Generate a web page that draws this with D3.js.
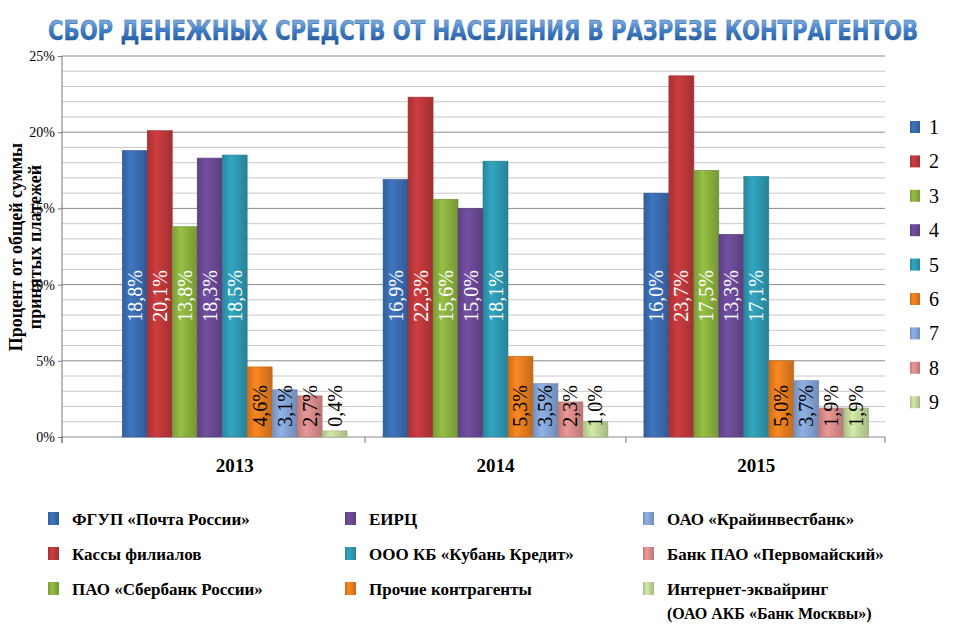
<!DOCTYPE html>
<html><head><meta charset="utf-8">
<script src="https://cdn.jsdelivr.net/npm/d3@7"></script>
<style>body{margin:0;background:#fff}</style></head>
<body><svg id="c" width="960" height="632"></svg>
<script>
const years = ["2013","2014","2015"];
const seriesNames = ["ФГУП «Почта России»","Кассы филиалов","ПАО «Сбербанк России»","ЕИРЦ","ООО КБ «Кубань Кредит»","Прочие контрагенты","ОАО «Крайинвестбанк»","Банк ПАО «Первомайский»","Интернет-эквайринг"];
const seriesKeys = ["1","2","3","4","5","6","7","8","9"];
const colors = ["#3b6db3","#c0393b","#8db33f","#6b4a97","#2f9bb5","#ea7f1f","#86a6d8","#dc8e8d","#c5db9c"];
const values = [
  [18.8,20.1,13.8,18.3,18.5,4.6,3.1,2.7,0.4],
  [16.9,22.3,15.6,15.0,18.1,5.3,3.5,2.3,1.0],
  [16.0,23.7,17.5,13.3,17.1,5.0,3.7,1.9,1.9]
];
const yTicks = [0,5,10,15,20,25];

const svg = d3.select("#c");
const defs = svg.append("defs");
const tg = defs.append("linearGradient").attr("id","tg").attr("x1",0).attr("y1",0).attr("x2",0).attr("y2",1);
tg.append("stop").attr("offset",0).attr("stop-color","#9ec3ea");
tg.append("stop").attr("offset",0.5).attr("stop-color","#3f7fc8");
tg.append("stop").attr("offset",1).attr("stop-color","#1d4e8f");
colors.forEach((c,i)=>{
  const g = defs.append("linearGradient").attr("id","bg"+i).attr("x1",0).attr("x2",1).attr("y1",0).attr("y2",0);
  g.append("stop").attr("offset",0).attr("stop-color",d3.color(c).darker(0.4));
  g.append("stop").attr("offset",0.35).attr("stop-color",d3.color(c).brighter(0.2));
  g.append("stop").attr("offset",1).attr("stop-color",d3.color(c).darker(0.5));
});

const tf = "Liberation Sans Narrow, DejaVu Sans Condensed, sans-serif";
svg.append("text").attr("x",483).attr("y",40).attr("text-anchor","middle")
  .attr("font-family",tf).attr("font-weight","bold").attr("font-size",27)
  .attr("textLength",870).attr("lengthAdjust","spacingAndGlyphs")
  .attr("fill","url(#tg)").attr("stroke","#2a5d9e").attr("stroke-width",0.4)
  .text("СБОР ДЕНЕЖНЫХ СРЕДСТВ ОТ НАСЕЛЕНИЯ  В РАЗРЕЗЕ КОНТРАГЕНТОВ");

const x0 = d3.scaleBand().domain(years).range([104,887]).paddingInner(0.138).paddingOuter(0.07);
const x1 = d3.scaleBand().domain(seriesKeys).range([0,x0.bandwidth()]);
const y = d3.scaleLinear().domain([0,25]).range([437,56]);
const left = 62, right = 885;
const font = "Liberation Serif, Tinos, DejaVu Serif, Times New Roman, serif";

d3.range(0,26,1).forEach(v=>{
  svg.append("line").attr("x1",left).attr("x2",right).attr("y1",y(v)).attr("y2",y(v))
    .attr("stroke", v%5===0 ? "#8a8a8a" : "#c8c8c8").attr("stroke-width",1);
});
svg.append("line").attr("x1",left).attr("x2",left).attr("y1",56).attr("y2",443).attr("stroke","#777");
[0,1,2,3].forEach(i=>{
  const xx = i<3 ? (i===0?left:x0(years[i])-x0.step()*x0.paddingInner()/2) : right;
  svg.append("line").attr("x1",xx).attr("x2",xx).attr("y1",437).attr("y2",443).attr("stroke","#777");
});
const ya = svg.append("g").attr("transform",`translate(${left},0)`)
  .call(d3.axisLeft(y).tickValues(yTicks).tickFormat(d=>d+"%").tickSize(4));
ya.select(".domain").remove();
ya.selectAll("text").attr("font-family",font).attr("font-size",14).attr("fill","#000");
ya.selectAll("line").attr("stroke","#777");

svg.selectAll(".xl").data(years).join("text")
  .attr("x",d=>x0(d)+x0.bandwidth()/2).attr("y",472).attr("text-anchor","middle")
  .attr("font-family",font).attr("font-weight","bold").attr("font-size",19).text(d=>d);

svg.append("text").attr("transform","translate(22,247) rotate(-90)").attr("text-anchor","middle")
  .attr("font-family",font).attr("font-weight","bold").attr("font-size",18).text("Процент от общей суммы");
svg.append("text").attr("transform","translate(41,247) rotate(-90)").attr("text-anchor","middle")
  .attr("font-family",font).attr("font-weight","bold").attr("font-size",18).text("принятых платежей");

years.forEach((yr,gi)=>{
  const g = svg.append("g").attr("transform",`translate(${x0(yr)},0)`);
  values[gi].forEach((v,si)=>{
    const bx = x1(seriesKeys[si]), bw = x1.bandwidth();
    g.append("rect").attr("x",bx).attr("y",y(v)).attr("width",bw).attr("height",y(0)-y(v))
      .attr("fill","url(#bg"+si+")").attr("stroke",d3.color(colors[si]).darker(0.6)).attr("stroke-width",0.6);
    const lbl = v.toFixed(1).replace(".",",")+"%";
    const big = si<5;
    const cy = big ? 296 : 406;
    g.append("text").attr("transform",`translate(${bx+bw/2+7},${cy}) rotate(-90)`)
      .attr("text-anchor","middle").attr("font-family",font).attr("font-size",20)
      .attr("fill", big ? "#fff" : "#000").text(lbl);
  });
});

seriesKeys.forEach((k,i)=>{
  const yy = 127 + i*34.4;
  svg.append("rect").attr("x",910).attr("y",yy-6).attr("width",10).attr("height",12).attr("fill","url(#bg"+i+")");
  svg.append("text").attr("x",929).attr("y",yy+7).attr("font-family",font).attr("font-size",20).text(k);
});

const colX = [48,345,643];
const rowY = [519,554,589];
seriesNames.forEach((n,i)=>{
  const c = Math.floor(i/3), r = i%3;
  svg.append("rect").attr("x",colX[c]).attr("y",rowY[r]-7).attr("width",11).attr("height",13).attr("fill","url(#bg"+i+")");
  svg.append("text").attr("x",colX[c]+24).attr("y",rowY[r]+6).attr("font-family",font).attr("font-weight","bold")
    .attr("font-size",17).text(n);
});
svg.append("text").attr("x",667).attr("y",619).attr("font-family",font).attr("font-weight","bold")
  .attr("font-size",16).text("(ОАО АКБ «Банк Москвы»)");
</script></body></html>
